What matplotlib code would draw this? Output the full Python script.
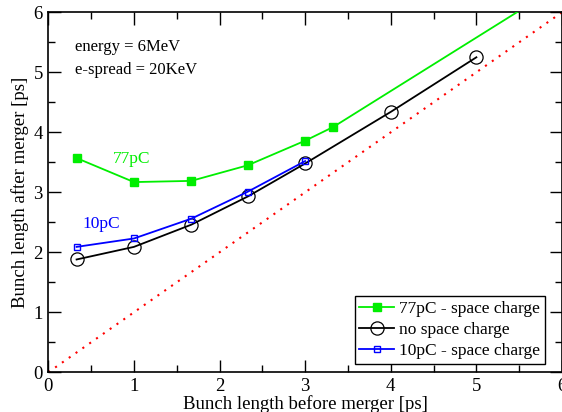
import matplotlib
matplotlib.use("Agg")
import matplotlib.pyplot as plt
from matplotlib.ticker import MultipleLocator

plt.rcParams['font.family'] = ['Liberation Serif', 'DejaVu Serif']
plt.rcParams['mathtext.fontset'] = 'stix'

# Data
x_77 = [0.33, 1.0, 1.67, 2.33, 3.0, 3.33, 6.0]
y_77 = [3.57, 3.17, 3.19, 3.45, 3.86, 4.09, 6.47]
x_none = [0.33, 1.0, 1.67, 2.33, 3.0, 4.0, 5.0]
y_none = [1.88, 2.09, 2.46, 2.93, 3.48, 4.34, 5.25]
x_10 = [0.33, 1.0, 1.67, 2.33, 3.0]
y_10 = [2.09, 2.23, 2.56, 3.01, 3.52]
x_ref = [0, 6]
y_ref = [0, 6]

labels = ["77pC - space charge", "no space charge", "10pC - space charge"]

fig = plt.figure(figsize=(5.62, 4.12), dpi=100)
ax = fig.add_axes([0.086, 0.0964, 0.914, 0.8738])

ax.plot(x_ref, y_ref, color='red', linestyle=(0, (1, 3)), linewidth=1.5, zorder=1)
ax.plot(x_77, y_77, color='#00ee00', marker='s', markersize=6, markerfacecolor='#00ee00',
        markeredgecolor='#00ee00', linewidth=1.3, label=labels[0], zorder=3)
ax.plot(x_none, y_none, color='black', marker='o', markersize=9.5, markerfacecolor='none',
        markeredgecolor='black', markeredgewidth=0.9, linewidth=1.3, label=labels[1], zorder=2)
ax.plot(x_10, y_10, color='blue', marker='s', markersize=4, markerfacecolor='none',
        markeredgecolor='blue', markeredgewidth=1.0, linewidth=1.3, label=labels[2], zorder=4)

ax.set_xlim(0, 6)
ax.set_ylim(0, 6)
ax.xaxis.set_major_locator(MultipleLocator(1))
ax.yaxis.set_major_locator(MultipleLocator(1))
ax.xaxis.set_minor_locator(MultipleLocator(0.5))
ax.yaxis.set_minor_locator(MultipleLocator(0.5))
ax.tick_params(which='both', direction='in', top=True, right=True, labelsize=13.5)
ax.tick_params(which='major', length=9, width=1, pad=4)
ax.tick_params(which='minor', length=5, width=1)
for s in ax.spines.values():
    s.set_linewidth(1.2)

ax.set_xlabel("Bunch length before merger [ps]", fontsize=13.5, labelpad=0)
ax.set_ylabel("Bunch length after merger [ps]", fontsize=13.5, labelpad=3)

ax.text(0.31, 5.42, "energy = 6MeV", fontsize=12, va='center', ha='left')
ax.text(0.31, 5.04, "e-spread = 20KeV", fontsize=12, va='center', ha='left')
ax.text(0.75, 3.55, "77pC", fontsize=12.5, color='#00ee00', va='center', ha='left')
ax.text(0.4, 2.47, "10pC", fontsize=12.5, color='blue', va='center', ha='left')

leg = ax.legend(loc='lower right', bbox_to_anchor=(0.966, 0.024), fontsize=12.5,
                frameon=True, fancybox=False, edgecolor='black', framealpha=1,
                handlelength=2.0, handletextpad=0.3, borderpad=0.25, labelspacing=0.3,
                borderaxespad=0)
leg.get_frame().set_linewidth(1.0)

fig.savefig("out.png", dpi=100)
